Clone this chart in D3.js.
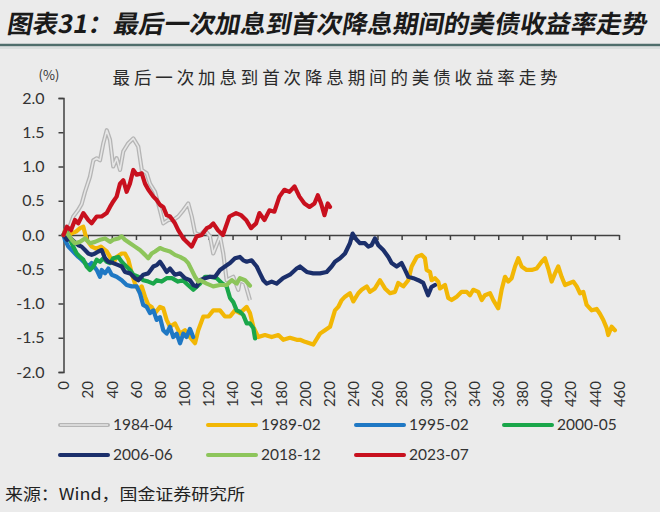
<!DOCTYPE html>
<html><head><meta charset="utf-8">
<script src="https://cdn.jsdelivr.net/npm/d3@7"></script>
<style>
html,body{margin:0;padding:0;background:#ebebeb;}
svg{display:block;}
</style></head>
<body>
<svg id="chart" width="660" height="512"></svg>
<script>
// ---- data (day after last hike, change in UST yield, %) ----
const seriesNames = ["1984-04","1989-02","1995-02","2000-05","2006-06","2018-12","2023-07"];
const xTickValues = [0,20,40,60,80,100,120,140,160,180,200,220,240,260,280,300,320,340,360,380,400,420,440,460];
const yTickValues = [-2.0,-1.5,-1.0,-0.5,0.0,0.5,1.0,1.5,2.0];

const s1984 = [[0,0],[2.6,0.07],[5,0.12],[8.1,0.27],[12,0.36],[15,0.45],[17.8,0.63],[21.9,0.85],[24.7,1.09],[27.5,1.12],[30.2,1.09],[33,1.34],[35.8,1.53],[38.5,1.39],[41.2,1.0],[44,1.12],[46.8,0.95],[49.5,1.22],[53.7,1.34],[57.8,1.41],[61.9,1.29],[64.8,0.95],[68.9,0.9],[71.6,0.75],[75.8,0.63],[79.9,0.36],[82.6,0.17],[86.8,0.22],[90.9,0.22],[95,0.27],[99.2,0.36],[103.3,0.46],[106.2,0.27],[108.9,0.03],[113,0.0],[117.2,0.07],[121.3,-0.02],[124,-0.27],[129.6,-0.02],[132.3,-0.27],[135.1,-0.66],[140.6,-0.61],[144.7,-0.8],[146.1,-0.66],[150.3,-0.7],[154.4,-0.95]];

const s1989 = [[0,0],[2.9,-0.03],[6.2,0.02],[10.4,0.05],[13.7,0.1],[16.4,0.12],[19.2,-0.07],[23.4,-0.17],[26.9,-0.2],[31,-0.17],[35.8,-0.24],[38.5,-0.32],[41.2,-0.41],[44,-0.32],[48.2,-0.27],[50.9,-0.27],[53.7,-0.36],[56.5,-0.56],[59.2,-0.71],[61.9,-0.8],[64.8,-0.75],[67.5,-0.9],[70.2,-1.02],[73,-1.05],[75.8,-1.14],[79.9,-1.05],[82.6,-1.07],[85.4,-1.24],[88.2,-1.34],[92.3,-1.29],[96.5,-1.44],[100.6,-1.39],[104.7,-1.49],[108.9,-1.58],[111.6,-1.39],[115.8,-1.19],[119.9,-1.19],[124,-1.1],[129.6,-1.1],[133.7,-1.19],[137.9,-1.19],[142,-1.1],[146.1,-1.14],[151.7,-1.05],[154.4,-1.14],[157.2,-1.34],[161.3,-1.49],[166.8,-1.46],[172.4,-1.49],[177.9,-1.46],[182,-1.53],[187.5,-1.5],[193.1,-1.53],[195.9,-1.53],[200,-1.56],[206.8,-1.6],[212.4,-1.44],[216.5,-1.39],[220.7,-1.34],[224.8,-1.1],[227.5,-1.05],[230.4,-0.95],[233.1,-0.9],[237.2,-0.85],[240,-0.97],[244.1,-0.85],[246.9,-0.8],[251.1,-0.75],[253.8,-0.83],[257.9,-0.78],[262.1,-0.66],[266.2,-0.78],[270.4,-0.85],[274.5,-0.83],[277.2,-0.7],[281.4,-0.75],[285.5,-0.66],[288.3,-0.46],[292.5,-0.32],[296.6,-0.29],[299.3,-0.34],[300.7,-0.51],[303.5,-0.54],[304.9,-0.66],[307.6,-0.63],[310.3,-0.68],[311.7,-0.78],[315.9,-0.73],[318.6,-0.92],[321.4,-0.95],[325.6,-0.9],[329.7,-0.83],[333.9,-0.83],[336.6,-0.88],[339.3,-0.8],[343.5,-0.83],[346.3,-0.95],[349,-0.88],[353.2,-0.85],[355.9,-0.95],[360,-1.07],[362.8,-0.8],[365.6,-0.61],[368.3,-0.68],[371.1,-0.63],[373.9,-0.46],[376.6,-0.34],[379.4,-0.46],[383.5,-0.51],[387.7,-0.51],[391.8,-0.49],[396,-0.39],[398.7,-0.34],[401.4,-0.49],[404.2,-0.68],[407,-0.56],[409.7,-0.46],[412.5,-0.61],[415.3,-0.73],[419.4,-0.7],[422.1,-0.68],[425,-0.75],[427.7,-0.85],[430.4,-0.83],[433.2,-1.02],[437.4,-1.1],[441.5,-1.08],[444.2,-1.15],[447,-1.24],[449.8,-1.36],[451.1,-1.46],[453.9,-1.34],[456.6,-1.39]];

const s1995 = [[0,0],[1.2,-0.07],[4,-0.17],[6.8,-0.22],[9.5,-0.27],[12.3,-0.32],[15,-0.36],[17.8,-0.41],[20.5,-0.46],[23.3,-0.41],[27.5,-0.51],[30.2,-0.61],[31.6,-0.51],[34.4,-0.56],[37.1,-0.49],[39.9,-0.58],[44,-0.61],[48.2,-0.66],[52.3,-0.73],[56.5,-0.75],[60.6,-0.75],[63.3,-0.85],[66,-1.02],[68.9,-1.05],[71.6,-1.14],[74.4,-1.1],[77.2,-1.24],[79.9,-1.2],[82.6,-1.39],[85.4,-1.44],[88.2,-1.34],[90.9,-1.49],[93.7,-1.44],[96.5,-1.58],[99.2,-1.44],[101.9,-1.49],[104.7,-1.37],[107.4,-1.49]];

const s2000 = [[0,0],[2.6,0.05],[5.4,-0.07],[8.1,-0.17],[10.9,-0.27],[13.7,-0.32],[16.4,-0.36],[19.2,-0.46],[21.9,-0.51],[24.7,-0.46],[27.5,-0.36],[30.2,-0.39],[33,-0.34],[35.8,-0.39],[38.5,-0.41],[41.2,-0.34],[45.4,-0.32],[48.2,-0.39],[50.9,-0.44],[55.1,-0.51],[57.8,-0.58],[61.9,-0.61],[66.1,-0.66],[70.2,-0.68],[74.4,-0.71],[77.2,-0.66],[81.3,-0.68],[85.4,-0.63],[89.8,-0.63],[94.8,-0.68],[98.9,-0.66],[103.1,-0.73],[107.5,-0.8],[113,-0.71],[117.2,-0.61],[121.3,-0.61],[126.9,-0.63],[131,-0.7],[135.1,-0.75],[137.9,-0.92],[140.6,-0.98],[143.4,-1.1],[146.1,-1.12],[148.9,-1.17],[151.7,-1.29],[154.4,-1.29],[157.2,-1.36],[158.6,-1.51]];

const s2006 = [[0,0],[3,-0.07],[6,-0.05],[9,-0.1],[12.3,-0.15],[15,-0.17],[17.8,-0.22],[20.5,-0.27],[23.3,-0.29],[26.1,-0.27],[28.8,-0.24],[31.6,-0.22],[34.4,-0.34],[37.1,-0.39],[41.2,-0.41],[45.4,-0.44],[48.2,-0.46],[50.9,-0.54],[55.1,-0.56],[59.2,-0.63],[61.9,-0.66],[66.1,-0.58],[70.2,-0.56],[74.4,-0.46],[77.2,-0.44],[79.9,-0.39],[82.6,-0.46],[85.4,-0.54],[88.2,-0.49],[92.3,-0.58],[96.5,-0.56],[100.6,-0.63],[104.7,-0.66],[107.5,-0.73],[110.3,-0.75],[113,-0.66],[117.2,-0.63],[121.3,-0.61],[125.5,-0.61],[129.6,-0.51],[133.7,-0.46],[137.9,-0.41],[142,-0.34],[146.1,-0.32],[148.9,-0.37],[151.7,-0.39],[155.8,-0.37],[160,-0.46],[162.7,-0.56],[165.5,-0.66],[168.2,-0.71],[172.4,-0.68],[176.5,-0.71],[181.8,-0.63],[187.5,-0.58],[193.1,-0.49],[195.9,-0.46],[201.4,-0.54],[206.8,-0.56],[212.4,-0.56],[217.9,-0.54],[222,-0.46],[224.8,-0.39],[229,-0.34],[233.1,-0.27],[237.2,-0.12],[239.4,0.02],[242.7,-0.07],[245.5,-0.12],[249.6,-0.12],[252.4,-0.17],[255.1,-0.15],[257.9,-0.05],[260.7,-0.15],[264.8,-0.22],[269,-0.32],[271.7,-0.41],[275.9,-0.46],[280,-0.41],[282.8,-0.51],[285.5,-0.61],[289.7,-0.63],[293.8,-0.66],[297.9,-0.7],[301.9,-0.88],[304.7,-0.76],[307.6,-0.73]];

const s2018 = [[0,0],[1.2,0.07],[4,0.0],[6.8,-0.07],[9.5,-0.12],[13.7,-0.1],[17.8,-0.05],[21.9,-0.12],[26.1,-0.1],[30.2,-0.07],[34.4,-0.05],[38.5,-0.1],[41.2,-0.07],[45.4,-0.05],[48.2,-0.02],[50.9,-0.07],[55.1,-0.12],[59.2,-0.17],[63.3,-0.22],[67.5,-0.29],[70.2,-0.34],[73,-0.27],[75.8,-0.24],[79.9,-0.19],[84,-0.22],[88.2,-0.24],[92.3,-0.29],[96.5,-0.32],[100.6,-0.36],[103.3,-0.41],[106.1,-0.51],[108.9,-0.61],[111.6,-0.68],[113,-0.66],[118.6,-0.71],[124,-0.75],[129.6,-0.73],[135.1,-0.73],[139.3,-0.66],[143.4,-0.71],[146.1,-0.63],[150.3,-0.66],[154.4,-0.74]];

const s2023 = [[0,0],[2.8,0.12],[6.2,0.07],[9.5,0.22],[12.2,0.17],[16.4,0.32],[20.5,0.22],[23.3,0.17],[27.5,0.27],[31.6,0.27],[35.8,0.32],[38.5,0.41],[41.2,0.49],[44,0.56],[46.8,0.75],[49.5,0.8],[52.3,0.63],[55,0.75],[57.8,0.95],[60.6,0.88],[64.8,0.9],[67.5,0.75],[70.3,0.66],[74.4,0.56],[77.2,0.51],[79.9,0.44],[82.6,0.41],[85.4,0.29],[88.2,0.27],[92.3,0.17],[95,0.07],[99.2,-0.05],[103.3,-0.12],[106.2,-0.17],[110.3,-0.02],[114.4,0.0],[118.6,0.1],[121.3,0.12],[124,0.17],[127.9,0.07],[132,0.0],[137.4,0.27],[142.9,0.32],[147,0.29],[151.2,0.22],[155.3,0.1],[159.5,0.17],[162.2,0.32],[166.4,0.22],[170.5,0.36],[174.6,0.34],[178.8,0.56],[182.9,0.66],[187.1,0.63],[191.3,0.71],[195.4,0.56],[199.5,0.46],[203.7,0.41],[207.8,0.46],[210.6,0.58],[213.3,0.46],[216.1,0.29],[218.8,0.46],[220.7,0.41]];

const seriesData = [s1984, s1989, s1995, s2000, s2006, s2018, s2023];
const seriesColors = ["#bdbdbd","#f2b705","#1f78c4","#1aa64a","#1b2f6b","#8dc55b","#c8101e"];

// ---- drawing ----
const svg = d3.select("#chart");
const font = "'Noto Sans CJK SC','Noto Sans',sans-serif";
const numFont = "Lato,'Open Sans',sans-serif";

svg.append("rect").attr("width",660).attr("height",512).attr("fill","#ebebeb");

// top title
svg.append("text")
  .attr("x",6).attr("y",33)
  .attr("transform","translate(6,0) skewX(-10)")
  .attr("font-family",font).attr("font-weight",700).attr("font-size",25)
  .attr("fill","#1a1a1a")
  .attr("textLength",640).attr("lengthAdjust","spacingAndGlyphs")
  .text("图表31：最后一次加息到首次降息期间的美债收益率走势");
svg.append("line").attr("x1",0).attr("x2",660).attr("y1",45).attr("y2",45)
  .attr("stroke","#4f6e6c").attr("stroke-width",2.5);
svg.append("line").attr("x1",0).attr("x2",660).attr("y1",48).attr("y2",48)
  .attr("stroke","#c9d3d2").attr("stroke-width",1);

const x = d3.scaleLinear().domain([0,460]).range([63.5,619]);
const y = d3.scaleLinear().domain([-2,2]).range([372,98]);

// inner title
svg.append("text").attr("x",335).attr("y",84).attr("text-anchor","middle")
  .attr("font-family",font).attr("font-size",17.5).attr("fill","#2a2a2a")
  .attr("textLength",445).attr("lengthAdjust","spacing")
  .text("最后一次加息到首次降息期间的美债收益率走势");
svg.append("text").attr("x",49).attr("y",80).attr("text-anchor","middle")
  .attr("font-family",font).attr("font-size",13).attr("fill","#333").text("(%)");

// y axis
const yAxis = svg.append("g").attr("transform",`translate(${x(0)},0)`)
  .call(d3.axisLeft(y).tickValues(yTickValues).tickSize(5).tickSizeOuter(5).tickPadding(14)
    .tickFormat(d => d.toFixed(1)));
yAxis.selectAll("text").attr("font-family",numFont).attr("font-size",16).attr("fill","#333");
yAxis.selectAll("path,line").attr("stroke","#404040").attr("stroke-width",1.5);

// x axis line at zero with ticks
const xAxis = svg.append("g").attr("transform",`translate(0,${y(0)})`)
  .call(d3.axisBottom(x).tickValues(xTickValues).tickSize(5).tickSizeOuter(0).tickFormat(""));
xAxis.selectAll("path,line").attr("stroke","#404040").attr("stroke-width",1.5);

// x labels at bottom
const xLab = svg.append("g").attr("transform",`translate(0,${y(-2)})`)
  .call(d3.axisBottom(x).tickValues(xTickValues).tickSize(0).tickFormat(d3.format("d")));
xLab.select(".domain").remove();
xLab.selectAll("text")
  .attr("transform","rotate(-90)")
  .attr("x",-9).attr("y",0).attr("dy","0.35em")
  .style("text-anchor","end")
  .attr("font-family",numFont).attr("font-size",15).attr("fill","#333");

// lines
const line = d3.line().x(d => x(d[0])).y(d => y(d[1])).curve(d3.curveLinear);
const lg = svg.append("g");
seriesData.forEach((s,i) => {
  if (i === 0) {
    lg.append("path").datum(s).attr("d",line).attr("fill","none")
      .attr("stroke","#b5b5b5").attr("stroke-width",4.2).attr("stroke-linejoin","round");
    lg.append("path").datum(s).attr("d",line).attr("fill","none")
      .attr("stroke","#e6e6e6").attr("stroke-width",1.6).attr("stroke-linejoin","round");
  } else {
    lg.append("path").datum(s).attr("d",line).attr("fill","none")
      .attr("stroke",seriesColors[i]).attr("stroke-width",4.2)
      .attr("stroke-linejoin","round").attr("stroke-linecap","round");
  }
});

// legend
const leg = svg.append("g");
seriesNames.forEach((n,i) => {
  const col = i % 4, row = Math.floor(i / 4);
  const lx = 60 + col*148, ly = 425 + row*30;
  if (i === 0) {
    leg.append("line").attr("x1",lx).attr("x2",lx+48).attr("y1",ly).attr("y2",ly)
      .attr("stroke","#b5b5b5").attr("stroke-width",4).attr("stroke-linecap","round");
    leg.append("line").attr("x1",lx).attr("x2",lx+48).attr("y1",ly).attr("y2",ly)
      .attr("stroke","#e6e6e6").attr("stroke-width",1.5);
  } else {
    leg.append("line").attr("x1",lx).attr("x2",lx+48).attr("y1",ly).attr("y2",ly)
      .attr("stroke",seriesColors[i]).attr("stroke-width",4).attr("stroke-linecap","round");
  }
  leg.append("text").attr("x",lx+53).attr("y",ly).attr("dy","0.35em")
    .attr("font-family",numFont).attr("font-size",15.5).attr("fill","#333").text(n);
});

// source
svg.append("text").attr("x",5).attr("y",500)
  .attr("font-family",font).attr("font-size",16).attr("fill","#222")
  .attr("textLength",240).attr("lengthAdjust","spacingAndGlyphs")
  .text("来源：Wind，国金证券研究所");
</script>
</body></html>
